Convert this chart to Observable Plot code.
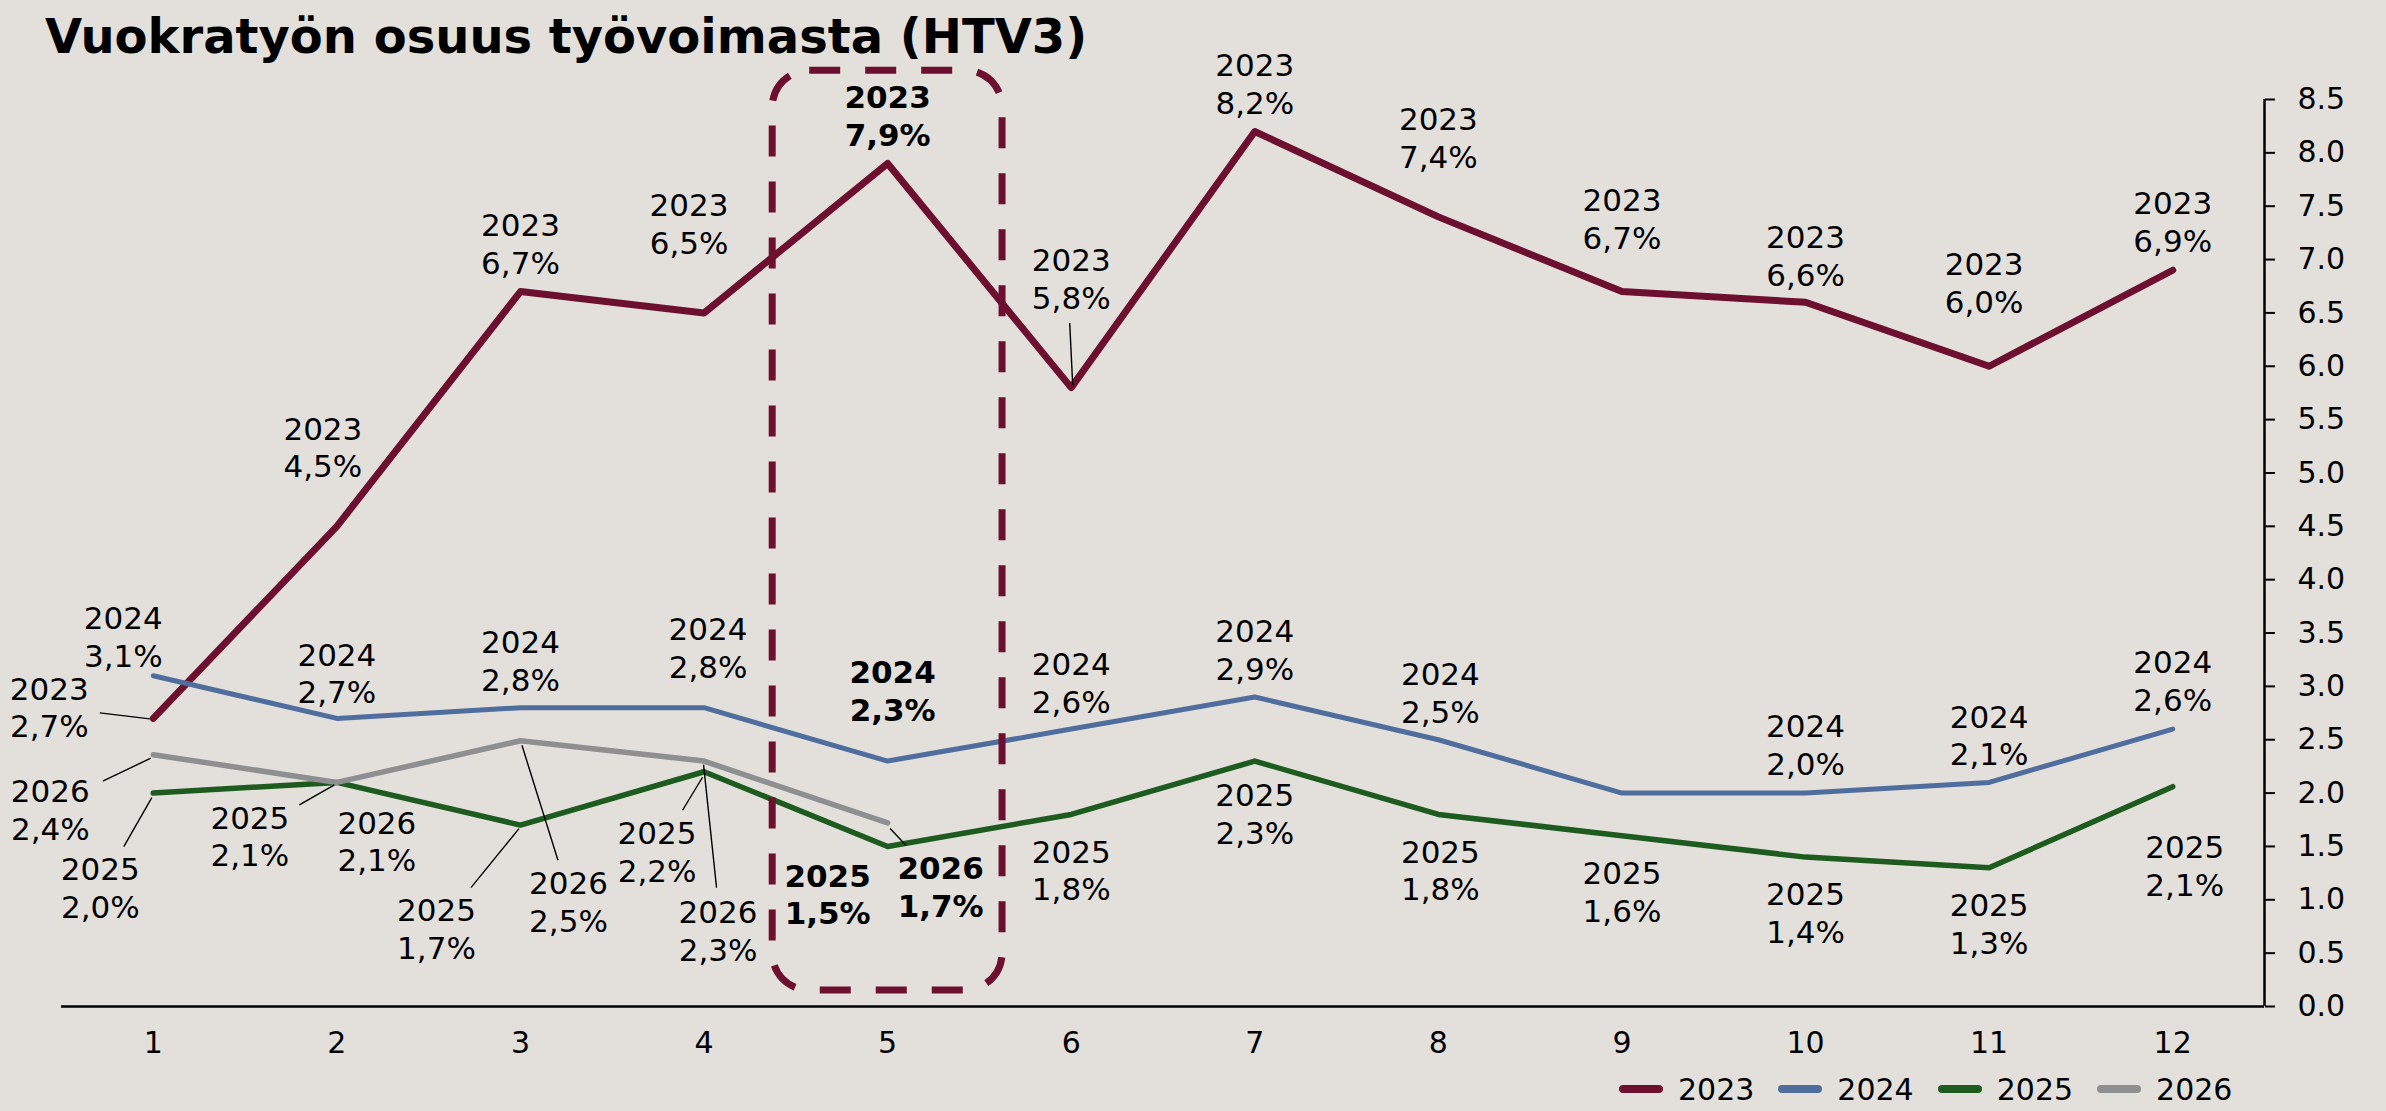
<!DOCTYPE html>
<html><head><meta charset="utf-8">
<script src="https://cdn.jsdelivr.net/npm/d3@7"></script>
<script src="https://cdn.jsdelivr.net/npm/@observablehq/plot@0.6"></script>
<style>
html,body{margin:0;padding:0;background:#E3E0DC;width:2386px;height:1111px;overflow:hidden;font-family:"DejaVu Sans",Verdana,sans-serif;color:#000;}
#title{height:73px;line-height:73px;padding-left:45px;font-size:48px;font-weight:bold;white-space:nowrap;}
#chart svg{overflow:visible;display:block}
#legend{display:flex;align-items:center;height:44px;padding-left:1619px;font-size:30px;}
.item{display:flex;align-items:center;margin-right:24px}
.sw{width:44px;height:8px;border-radius:4px;margin-right:15px}
</style></head><body>
<div id="title">Vuokratyön osuus työvoimasta (HTV3)</div>
<div id="chart"></div>
<div id="legend"></div>
<script>
// ---- data ----
const months = [1, 2, 3, 4, 5, 6, 7, 8, 9, 10, 11, 12];
const years = ["2023", "2024", "2025", "2026"];
const v2023 = [2.7, 4.5, 6.7, 6.5, 7.9, 5.8, 8.2, 7.4, 6.7, 6.6, 6.0, 6.9];
const v2024 = [3.1, 2.7, 2.8, 2.8, 2.3, 2.6, 2.9, 2.5, 2.0, 2.0, 2.1, 2.6];
const v2025 = [2.0, 2.1, 1.7, 2.2, 1.5, 1.8, 2.3, 1.8, 1.6, 1.4, 1.3, 2.06];
const v2026 = [2.36, 2.1, 2.49, 2.3, 1.72];
const yTicks = [0, 0.5, 1, 1.5, 2, 2.5, 3, 3.5, 4, 4.5, 5, 5.5, 6, 6.5, 7, 7.5, 8, 8.5];
const highlightMonth = 5;

// ---- styles / annotation layout ----
const colors = ["#6D0F2F", "#4F6E9E", "#1E5B1E", "#8E8F91"];
const widths = [7, 5, 5.5, 5.5];
// label offsets in px relative to the data point: [dx, dy]
const labelLayout = {
  "2023-1": [-104, -12], "2023-2": [-14, -80], "2023-3": [0, -49], "2023-4": [-15, -90],
  "2023-5": [0, -49], "2023-6": [0, -110], "2023-7": [0, -49], "2023-8": [0, -80],
  "2023-9": [0, -74], "2023-10": [0, -47], "2023-11": [-5, -84], "2023-12": [0, -49],
  "2024-1": [-30, -40], "2024-2": [0, -46], "2024-3": [0, -48], "2024-4": [4, -61],
  "2024-5": [5, -71], "2024-6": [0, -47], "2024-7": [0, -48], "2024-8": [2, -48],
  "2024-10": [0, -49], "2024-11": [0, -48], "2024-12": [0, -49],
  "2025-1": [-53, 94], "2025-2": [-87, 53], "2025-3": [-84, 103], "2025-4": [-47, 79],
  "2025-5": [-60, 47], "2025-6": [0, 55], "2025-7": [0, 52], "2025-8": [2, 55],
  "2025-9": [0, 55], "2025-10": [0, 55], "2025-11": [0, 55], "2025-12": [12, 78],
  "2026-1": [-103, 54], "2026-2": [40, 58], "2026-3": [48, 160], "2026-4": [14, 169], "2026-5": [53, 63]
};
// leader lines: [startDx, startDy, endDx, endDy] relative to the point
const leaderLayout = {
  "2023-1": [-53, -5, -3, 1], "2023-6": [-1, -64, 2, -2],
  "2025-1": [-29, 54, -1, 5], "2025-2": [-37, 23, -2, 3], "2025-3": [-49, 63, -1, 4], "2025-4": [-21, 39, -1, 6],
  "2026-1": [-50, 27, -2, 4], "2026-3": [38, 120, 2, 5], "2026-4": [13, 127, 0, 4], "2026-5": [19, 23, 3, 6]
};

const series = [v2023, v2024, v2025, v2026];
const table = [];
series.forEach((vals, i) => vals.forEach((v, j) => table.push({year: years[i], month: months[j], value: v})));
const fmt = v => v.toFixed(1).replace(".", ",") + "%";

const marks = [];
// axis lines
marks.push(Plot.ruleY([0], {x1: 0.5, x2: 12.5, stroke: "#000", strokeWidth: 2.5}));
marks.push(Plot.ruleX([12.5], {y1: 0, y2: 8.5, stroke: "#000", strokeWidth: 2.5}));
marks.push(Plot.axisY({anchor: "right", ticks: yTicks, tickFormat: d => d.toFixed(1), tickSize: 10, tickPadding: 23, fontSize: 30, strokeWidth: 2, label: null}));
marks.push(Plot.axisX({ticks: months, tickFormat: d => String(d), tickSize: 0, tickPadding: 25, fontSize: 30, label: null}));
// lines
years.forEach((y, i) => {
  marks.push(Plot.line(table.filter(d => d.year === y), {x: "month", y: "value", stroke: colors[i], strokeWidth: widths[i], strokeLinecap: "round", strokeLinejoin: "round"}));
});
// highlight box around the focused month
marks.push(Plot.rect([{m: highlightMonth}], {x1: d => d.m - 0.626, x2: d => d.m + 0.626, y1: 0.15, y2: 8.77, fill: "none", stroke: colors[0], strokeWidth: 7, strokeDasharray: "31,25", rx: 37}));
// leader lines
marks.push((index, scales) => {
  const g = d3.create("svg:g").attr("stroke", "#000").attr("stroke-width", 1.4);
  for (const d of table) {
    const L = leaderLayout[d.year + "-" + d.month];
    if (!L) continue;
    const px = scales.x(d.month), py = scales.y(d.value);
    g.append("line").attr("x1", px + L[0]).attr("y1", py + L[1]).attr("x2", px + L[2]).attr("y2", py + L[3]);
  }
  return g.node();
});
// labels
for (const d of table) {
  const o = labelLayout[d.year + "-" + d.month];
  if (!o) continue;
  marks.push(Plot.text([d], {
    x: "month", y: "value", text: r => r.year + "\n" + fmt(r.value),
    dx: o[0], dy: o[1], fontSize: 31, lineHeight: 1.22, lineAnchor: "middle", textAnchor: "middle",
    fontWeight: d.month === highlightMonth ? "bold" : "normal", fill: "#000"
  }));
}

const chart = Plot.plot({
  width: 2386, height: 994,
  marginLeft: 61, marginRight: 122, marginTop: 26, marginBottom: 61,
  x: {domain: [0.5, 12.5]},
  y: {domain: [0, 8.5]},
  style: {background: "transparent", fontFamily: "DejaVu Sans, Verdana, sans-serif", color: "#000", overflow: "visible"},
  marks
});
document.getElementById("chart").appendChild(chart);

const legend = document.getElementById("legend");
years.forEach((y, i) => {
  const it = document.createElement("div"); it.className = "item";
  const sw = document.createElement("div"); sw.className = "sw"; sw.style.background = colors[i];
  const t = document.createElement("span"); t.textContent = y;
  it.appendChild(sw); it.appendChild(t); legend.appendChild(it);
});
</script>
</body></html>
